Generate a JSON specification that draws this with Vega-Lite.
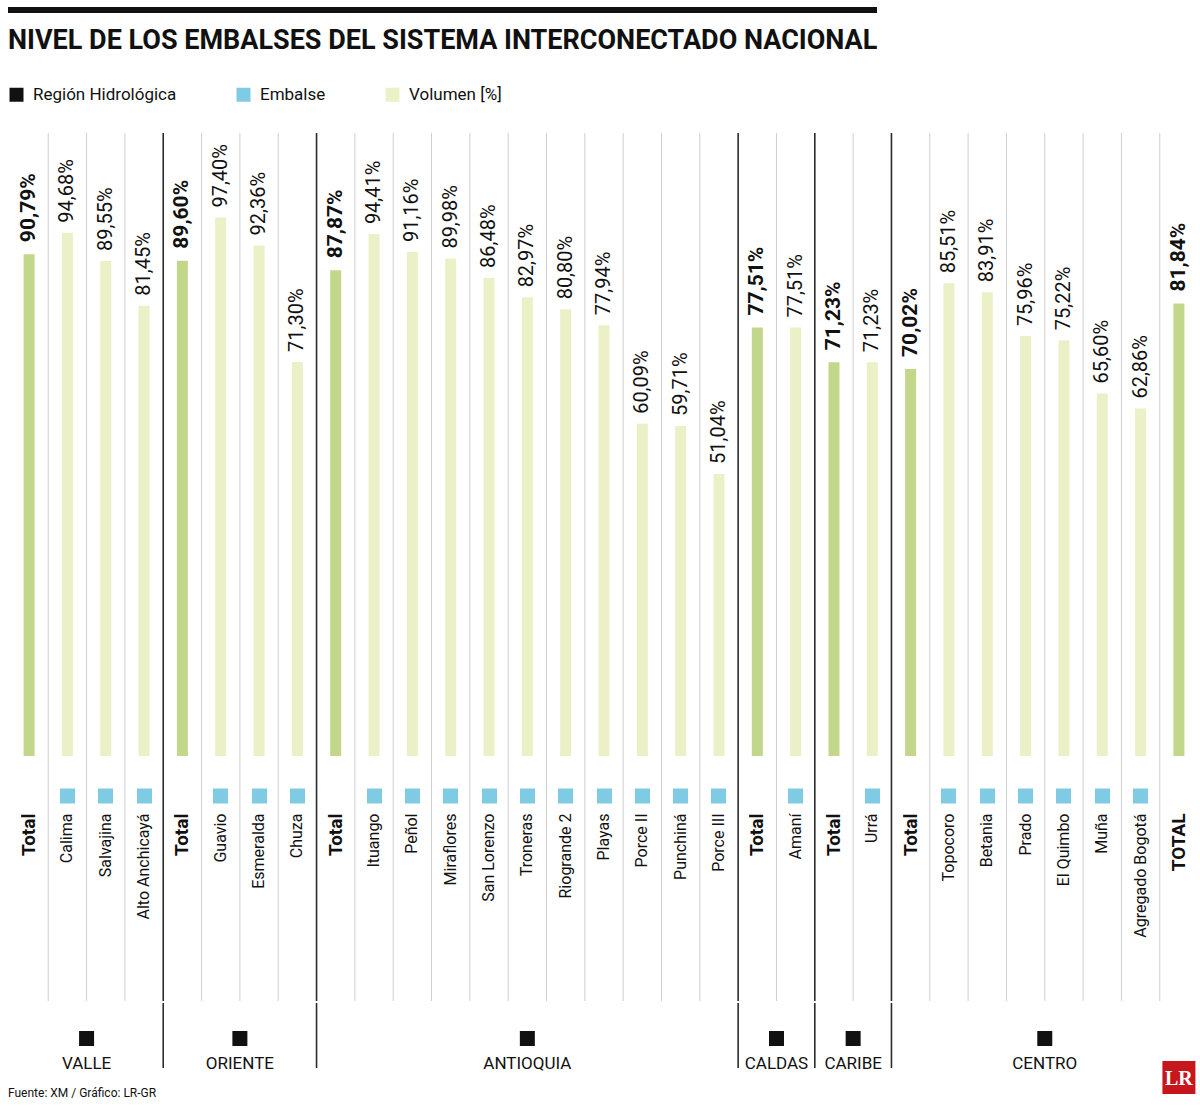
{
  "$schema": "https://vega.github.io/schema/vega-lite/v6.json",
  "padding": {"left": 8, "top": 4, "right": 0, "bottom": 0},
  "background": "white",
  "config": {"font": "Roboto, Liberation Sans, sans-serif", "view": {"stroke": null}},
  "data": {"values": [
    {"region": "VALLE", "nombre": "Total", "valor": 90.79},
    {"region": "VALLE", "nombre": "Calima", "valor": 94.68},
    {"region": "VALLE", "nombre": "Salvajina", "valor": 89.55},
    {"region": "VALLE", "nombre": "Alto Anchicayá", "valor": 81.45},
    {"region": "ORIENTE", "nombre": "Total", "valor": 89.60},
    {"region": "ORIENTE", "nombre": "Guavio", "valor": 97.40},
    {"region": "ORIENTE", "nombre": "Esmeralda", "valor": 92.36},
    {"region": "ORIENTE", "nombre": "Chuza", "valor": 71.30},
    {"region": "ANTIOQUIA", "nombre": "Total", "valor": 87.87},
    {"region": "ANTIOQUIA", "nombre": "Ituango", "valor": 94.41},
    {"region": "ANTIOQUIA", "nombre": "Peñol", "valor": 91.16},
    {"region": "ANTIOQUIA", "nombre": "Miraflores", "valor": 89.98},
    {"region": "ANTIOQUIA", "nombre": "San Lorenzo", "valor": 86.48},
    {"region": "ANTIOQUIA", "nombre": "Troneras", "valor": 82.97},
    {"region": "ANTIOQUIA", "nombre": "Riogrande 2", "valor": 80.80},
    {"region": "ANTIOQUIA", "nombre": "Playas", "valor": 77.94},
    {"region": "ANTIOQUIA", "nombre": "Porce II", "valor": 60.09},
    {"region": "ANTIOQUIA", "nombre": "Punchiná", "valor": 59.71},
    {"region": "ANTIOQUIA", "nombre": "Porce III", "valor": 51.04},
    {"region": "CALDAS", "nombre": "Total", "valor": 77.51},
    {"region": "CALDAS", "nombre": "Amaní", "valor": 77.51},
    {"region": "CARIBE", "nombre": "Total", "valor": 71.23},
    {"region": "CARIBE", "nombre": "Urrá", "valor": 71.23},
    {"region": "CENTRO", "nombre": "Total", "valor": 70.02},
    {"region": "CENTRO", "nombre": "Topocoro", "valor": 85.51},
    {"region": "CENTRO", "nombre": "Betania", "valor": 83.91},
    {"region": "CENTRO", "nombre": "Prado", "valor": 75.96},
    {"region": "CENTRO", "nombre": "El Quimbo", "valor": 75.22},
    {"region": "CENTRO", "nombre": "Muña", "valor": 65.60},
    {"region": "CENTRO", "nombre": "Agregado Bogotá", "valor": 62.86},
    {"region": "NACIONAL", "nombre": "TOTAL", "valor": 81.84}
  ]},
  "spacing": 12,
  "vconcat": [
    {
      "width": 869,
      "height": 6,
      "view": {"fill": "#111111", "stroke": null},
      "data": {"values": [{"k": 1}]},
      "mark": {"type": "text"},
      "encoding": {"text": {"value": ""}}
    },
    {
      "spacing": 0,
      "resolve": {"scale": {"color": "independent"}},
      "vconcat": [
        {
          "width": 1192,
          "height": 868,
          "view": {"stroke": null},
          "title": {"text": "NIVEL DE LOS EMBALSES DEL SISTEMA INTERCONECTADO NACIONAL", "anchor": "start", "fontSize": 27, "fontWeight": "bold", "color": "#111111", "offset": 31},
          "transform": [
            {"window": [{"op": "row_number", "as": "n"}]},
            {"calculate": "datum.region + '|' + datum.nombre", "as": "id"},
            {"calculate": "lower(datum.nombre) == 'total'", "as": "esTotal"},
            {"calculate": "datum.nombre == 'Total'", "as": "inicioRegion"},
            {"calculate": "replace(format(datum.valor, '.2f'), '.', ',') + '%'", "as": "etiqueta"}
          ],
          "layer": [
            {
              "transform": [{"filter": "datum.n > 1"}],
              "mark": {"type": "rule"},
              "encoding": {
                "x": {"field": "id", "type": "nominal", "sort": {"field": "n", "op": "min"}, "bandPosition": 0},
                "color": {"condition": {"test": "datum.inicioRegion", "value": "#2b2b2b"}, "value": "#cfcfcf"},
                "strokeWidth": {"condition": {"test": "datum.inicioRegion", "value": 1.6}, "value": 1}
              }
            },
            {
              "transform": [{"filter": "datum.esTotal"}],
              "mark": {"type": "bar", "size": 11, "color": "#c3d78b"},
              "encoding": {
                "x": {
                  "field": "id", "type": "nominal", "sort": {"field": "n", "op": "min"},
                  "scale": {"paddingInner": 0, "paddingOuter": 0.05},
                  "axis": {
                    "orient": "bottom", "title": null, "domain": false, "grid": false,
                    "offset": -213,
                    "ticks": true, "tickSize": 15, "tickWidth": 15,
                    "tickColor": {"condition": {"test": "lower(split(datum.value, '|')[1]) == 'total'", "value": "transparent"}, "value": "#7fcbe3"},
                    "labelAngle": 270, "labelAlign": "right", "labelBaseline": "middle",
                    "labelPadding": 10,
                    "labelExpr": "split(datum.value, '|')[1]",
                    "labelFontSize": {"condition": {"test": "lower(split(datum.value, '|')[1]) == 'total'", "value": 19}, "value": 16},
                    "labelFontWeight": {"condition": {"test": "lower(split(datum.value, '|')[1]) == 'total'", "value": "bold"}, "value": "normal"},
                    "labelColor": "#111111",
                    "labelLimit": 300,
                    "labelOverlap": false
                  }
                },
                "y": {"field": "valor", "type": "quantitative", "scale": {"domain": [-44.3, 112.7], "nice": false}, "axis": null}
              }
            },
            {
              "transform": [{"filter": "!datum.esTotal"}],
              "mark": {"type": "bar", "size": 11},
              "encoding": {
                "x": {"field": "id", "type": "nominal", "sort": {"field": "n", "op": "min"}},
                "y": {"field": "valor", "type": "quantitative", "axis": null},
                "color": {
                  "datum": "Volumen [%]",
                  "scale": {"domain": ["Región Hidrológica", "Embalse", "Volumen [%]"], "range": ["#111111", "#7fcbe3", "#ebf0c7"]},
                  "legend": {
                    "orient": "top", "direction": "horizontal", "title": null,
                    "symbolType": "square", "symbolSize": 196, "symbolStrokeWidth": 0, "symbolOpacity": 1,
                    "labelFontSize": 17, "labelColor": "#111111", "labelOffset": 8,
                    "columnPadding": 58, "offset": 30, "labelLimit": 300
                  }
                }
              }
            },
            {
              "transform": [{"filter": "!datum.esTotal"}],
              "mark": {"type": "text", "angle": 270, "align": "left", "baseline": "middle", "dx": 10, "fontSize": 20, "color": "#111111"},
              "encoding": {
                "x": {"field": "id", "type": "nominal", "sort": {"field": "n", "op": "min"}},
                "y": {"field": "valor", "type": "quantitative", "axis": null},
                "text": {"field": "etiqueta"}
              }
            },
            {
              "transform": [{"filter": "datum.esTotal"}],
              "mark": {"type": "text", "angle": 270, "align": "left", "baseline": "middle", "dx": 12, "fontSize": 21, "fontWeight": "bold", "color": "#111111"},
              "encoding": {
                "x": {"field": "id", "type": "nominal", "sort": {"field": "n", "op": "min"}},
                "y": {"field": "valor", "type": "quantitative", "axis": null},
                "text": {"field": "etiqueta"}
              }
            }
          ]
        },
        {
          "width": 1192,
          "height": 65,
          "view": {"stroke": null},
          "title": {"text": "Fuente: XM / Gráfico: LR-GR", "orient": "bottom", "anchor": "start", "fontSize": 12, "fontWeight": "normal", "color": "#111111", "offset": -6},
          "transform": [
            {"window": [{"op": "row_number", "as": "n"}]},
            {"joinaggregate": [{"op": "count", "as": "N"}]}
          ],
          "layer": [
            {
              "transform": [
                {"filter": "datum.region != 'NACIONAL'"},
                {"aggregate": [{"op": "min", "field": "n", "as": "inicio"}, {"op": "max", "field": "N", "as": "N"}], "groupby": ["region"]},
                {"window": [{"op": "lead", "field": "inicio", "as": "sig"}], "sort": [{"field": "inicio", "order": "ascending"}]},
                {"calculate": "datum.inicio - 1", "as": "x0"},
                {"calculate": "((datum.inicio - 1) + (datum.sig != null ? datum.sig - 1 : datum.N)) / 2", "as": "centro"}
              ],
              "layer": [
                {
                  "transform": [{"filter": "datum.x0 > 0"}],
                  "mark": {"type": "rule", "color": "#2b2b2b", "strokeWidth": 1.6},
                  "encoding": {"x": {"field": "x0", "type": "quantitative", "scale": {"domain": [-0.05, 31.05], "nice": false, "zero": false}, "axis": null}}
                },
                {
                  "mark": {"type": "point", "shape": "square", "filled": true, "size": 225, "color": "#111111", "opacity": 1},
                  "encoding": {
                    "x": {"field": "centro", "type": "quantitative", "scale": {"domain": [-0.05, 31.05], "nice": false, "zero": false}, "axis": null},
                    "yOffset": {"value": 3}
                  }
                },
                {
                  "mark": {"type": "text", "fontSize": 17, "dy": 28, "baseline": "middle", "align": "center", "color": "#111111"},
                  "encoding": {
                    "x": {"field": "centro", "type": "quantitative", "scale": {"domain": [-0.05, 31.05], "nice": false, "zero": false}, "axis": null},
                    "text": {"field": "region"}
                  }
                }
              ]
            },
            {
              "transform": [
                {"filter": "datum.region == 'NACIONAL'"},
                {"calculate": "datum.n - 0.5", "as": "centro"}
              ],
              "layer": [
                {
                  "mark": {"type": "point", "shape": "square", "filled": true, "size": 1089, "color": "#c8161d", "opacity": 1},
                  "encoding": {
                    "x": {"field": "centro", "type": "quantitative", "scale": {"domain": [-0.05, 31.05], "nice": false, "zero": false}, "axis": null},
                    "yOffset": {"value": 42}
                  }
                },
                {
                  "mark": {"type": "text", "font": "Liberation Serif, DejaVu Serif, serif", "fontSize": 20, "fontWeight": "bold", "dy": 43, "baseline": "middle", "align": "center", "color": "white"},
                  "encoding": {
                    "x": {"field": "centro", "type": "quantitative", "scale": {"domain": [-0.05, 31.05], "nice": false, "zero": false}, "axis": null},
                    "text": {"value": "LR"}
                  }
                }
              ]
            }
          ]
        }
      ]
    }
  ]
}
